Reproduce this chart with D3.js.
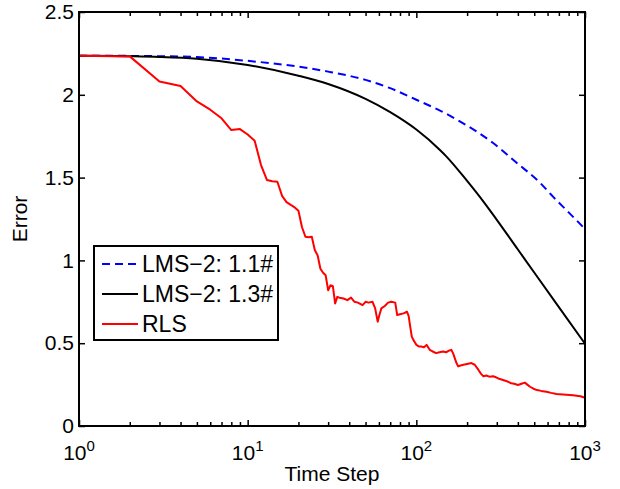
<!DOCTYPE html>
<html>
<head>
<meta charset="utf-8">
<script src="https://cdn.jsdelivr.net/npm/d3@7"></script>
<style>
body { margin: 0; background: #fff; }
text { font-family: "Liberation Sans", Arial, sans-serif; fill: #000; }
</style>
</head>
<body>
<div id="chart"></div>
<script>
// data
var blueT = [1,2,3,5,10,20,30,50,70,100,141,181,284,393,540,646,800,1000];
var blueErr = [2.236,2.235,2.233,2.228,2.205,2.17,2.14,2.09,2.04,1.97,1.90,1.84,1.71,1.59,1.47,1.385,1.29,1.19];

var blackT = [1,2,3,5,10,20,30,50,70,100,138,150,200,250,300,400,500,700,1000];
var blackErr = [2.236,2.233,2.229,2.218,2.18,2.115,2.065,1.975,1.895,1.79,1.667,1.63,1.48,1.355,1.245,1.066,0.927,0.718,0.497];

var rlsT = [1,2,3,4,5,6,7,8,9,10,
  11,12,13,14,15,16,17,18,19,20,
  21,22,23,24,25,26,27,28,29,30,
  31,32,33,34,35,37,39,41,43,45,
  48,50,52,55,57,59,60,62,65,68,
  71,75,77,80,84,88,90,92,94,96,
  100,104,107,111,115,120,125,131,137,144,
  150,156,161,165,169,173,177,183,190,200,
  212,222,233,242,250,260,271,285,297,310,
  326,345,365,380,401,420,440,455,472,495,
  519,550,590,630,678,740,812,850,889,940,
  1000];
var rlsErr = [2.236,2.232,2.08,2.053,1.96,1.91,1.858,1.787,1.793,1.76,
  1.723,1.576,1.486,1.478,1.475,1.39,1.352,1.335,1.32,1.30,
  1.20,1.143,1.14,1.143,1.063,1.03,0.95,0.925,0.91,0.82,
  0.85,0.845,0.74,0.78,0.775,0.77,0.76,0.775,0.75,0.745,
  0.73,0.75,0.745,0.75,0.71,0.63,0.66,0.71,0.725,0.745,
  0.75,0.745,0.67,0.675,0.68,0.69,0.665,0.60,0.54,0.52,
  0.49,0.48,0.48,0.475,0.49,0.46,0.45,0.44,0.445,0.45,
  0.445,0.455,0.46,0.44,0.41,0.38,0.36,0.365,0.37,0.375,
  0.38,0.37,0.34,0.315,0.30,0.305,0.298,0.30,0.294,0.285,
  0.278,0.27,0.258,0.255,0.248,0.255,0.262,0.25,0.237,0.225,
  0.217,0.212,0.207,0.20,0.193,0.19,0.187,0.185,0.183,0.18,
  0.171];

var yTicks = [0, 0.5, 1, 1.5, 2, 2.5];
var xMajor = [1, 10, 100, 1000];
var xExp = ["0", "1", "2", "3"];
var legendNames = ["LMS\u22122: 1.1#", "LMS\u22122: 1.3#", "RLS"];

// sizes
var svgWidth = 620;
var svgHeight = 489;
var margin = {top: 12, right: 35, bottom: 63, left: 79};
var width = svgWidth - margin.left - margin.right;
var height = svgHeight - margin.top - margin.bottom;

var svg = d3.select("#chart")
  .append("svg")
  .attr("width", svgWidth)
  .attr("height", svgHeight);

var chart = svg.append("g")
  .attr("transform", `translate(${margin.left}, ${margin.top})`);

var x = d3.scaleLog().domain([1, 1000]).range([0, width]);
var y = d3.scaleLinear().domain([0, 2.5]).range([height, 0]);

// minor ticks 2..9 in each decade
var xMinor = [];
xMajor.slice(0, 3).forEach(function(d) {
  for (var k = 2; k <= 9; k++) xMinor.push(d * k);
});

// curves
var line = d3.line()
  .x(d => x(d[0]))
  .y(d => y(d[1]));

chart.append("path")
  .attr("d", line.curve(d3.curveMonotoneX)(d3.zip(blueT, blueErr)))
  .attr("fill", "none")
  .attr("stroke", "#0000ff")
  .attr("stroke-width", 2)
  .attr("stroke-dasharray", "8,5");

chart.append("path")
  .attr("d", line.curve(d3.curveMonotoneX)(d3.zip(blackT, blackErr)))
  .attr("fill", "none")
  .attr("stroke", "#000")
  .attr("stroke-width", 2);

chart.append("path")
  .attr("d", line.curve(d3.curveLinear)(d3.zip(rlsT, rlsErr)))
  .attr("fill", "none")
  .attr("stroke", "#ff0000")
  .attr("stroke-width", 2)
  .attr("stroke-linejoin", "round");

// axes: ticks pointing inward on all four sides
function tidy(g) {
  g.select(".domain").remove();
  g.selectAll(".tick line").attr("stroke", "#000").attr("stroke-width", 1.5);
}

chart.append("g")
  .attr("transform", `translate(0, ${height})`)
  .call(d3.axisBottom(x).tickValues(xMajor).tickSize(-6).tickFormat(""))
  .call(tidy);
chart.append("g")
  .attr("transform", `translate(0, ${height})`)
  .call(d3.axisBottom(x).tickValues(xMinor).tickSize(-4).tickFormat(""))
  .call(tidy);
chart.append("g")
  .call(d3.axisTop(x).tickValues(xMajor).tickSize(-6).tickFormat(""))
  .call(tidy);
chart.append("g")
  .call(d3.axisTop(x).tickValues(xMinor).tickSize(-4).tickFormat(""))
  .call(tidy);

var yAxis = chart.append("g")
  .call(d3.axisLeft(y).tickValues(yTicks).tickSize(-6).tickPadding(5).tickFormat(d3.format("")))
  .call(tidy);
yAxis.selectAll("text")
  .attr("font-size", 21)
  .attr("font-family", "Liberation Sans, Arial, sans-serif")
  .attr("fill", "#000");

chart.append("g")
  .attr("transform", `translate(${width}, 0)`)
  .call(d3.axisRight(y).tickValues(yTicks).tickSize(-6).tickFormat(""))
  .call(tidy);

// box
chart.append("rect")
  .attr("width", width)
  .attr("height", height)
  .attr("fill", "none")
  .attr("stroke", "#000")
  .attr("stroke-width", 2);

// x tick labels 10^n
var xLab = chart.append("g").selectAll("text")
  .data(xMajor)
  .enter()
  .append("text")
  .attr("x", d => x(d))
  .attr("y", height + 34)
  .attr("text-anchor", "middle")
  .attr("font-size", 21);
xLab.append("tspan").text("10");
xLab.append("tspan")
  .attr("dy", -9)
  .attr("font-size", 15)
  .text((d, i) => xExp[i]);

// axis titles
chart.append("text")
  .attr("x", width / 2)
  .attr("y", height + 55)
  .attr("text-anchor", "middle")
  .attr("font-size", 21)
  .text("Time Step");

chart.append("text")
  .attr("transform", "rotate(-90)")
  .attr("x", -height / 2)
  .attr("y", -52)
  .attr("text-anchor", "middle")
  .attr("font-size", 21)
  .text("Error");

// legend
var legend = svg.append("g").attr("transform", "translate(94, 246)");
legend.append("rect")
  .attr("width", 184)
  .attr("height", 94)
  .attr("fill", "#fff")
  .attr("stroke", "#000")
  .attr("stroke-width", 2);

var legendColors = ["#0000ff", "#000", "#ff0000"];
var legendDash = ["8,5", null, null];
legendNames.forEach(function(name, i) {
  var yy = 18 + i * 30;
  legend.append("line")
    .attr("x1", 8).attr("x2", 44)
    .attr("y1", yy).attr("y2", yy)
    .attr("stroke", legendColors[i])
    .attr("stroke-width", 2)
    .attr("stroke-dasharray", legendDash[i]);
  legend.append("text")
    .attr("x", 48)
    .attr("y", yy)
    .attr("dy", "0.35em")
    .attr("font-size", 23)
    .text(name);
});
</script>
</body>
</html>
